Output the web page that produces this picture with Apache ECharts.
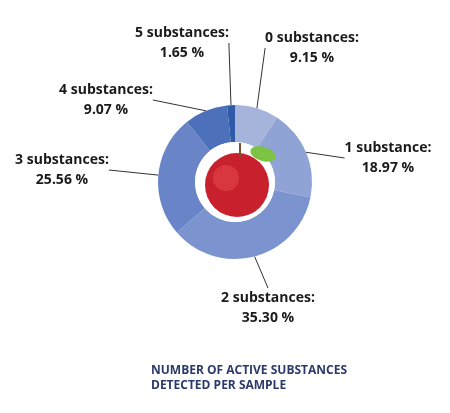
<!DOCTYPE html><html><head><meta charset="utf-8"><script src="https://cdn.jsdelivr.net/npm/echarts@6/dist/echarts.min.js"></script>
<style>html,body{margin:0;background:#fff}#c{width:450px;height:413px}</style></head><body><div id="c"></div><script>
const categories=['0 substances','1 substance','2 substances','3 substances','4 substances','5 substances'];
const values=[9.15,18.97,35.30,25.56,9.07,1.65];
const colors=['#a6b4dc','#8fa3d5','#7b93cf','#6985c8','#4d70ba','#2f5aa8'];
const labelPos=[[312,48],[388,158],[268,308],[62,170],[106,100],[182,43]];
const c=echarts.init(document.getElementById('c'));
c.setOption({
 title:{text:'NUMBER OF ACTIVE SUBSTANCES\nDETECTED PER SAMPLE',left:146,top:358,textStyle:{fontFamily:'Open Sans',fontSize:12,fontWeight:'bold',color:'#2b3a6b',lineHeight:15}},
 series:[{type:'pie',center:[235,182],radius:[40,77],startAngle:90,clockwise:true,silent:true,
  data:categories.map((n,i)=>({name:n,value:values[i],itemStyle:{color:colors[i]}})),
  label:{formatter:p=>p.name+':\n'+p.value.toFixed(2)+' %',fontFamily:'Open Sans',fontWeight:'bold',fontSize:14,color:'#1a1a1a',align:'center',lineHeight:20},
  labelLine:{show:true,length:20,length2:0,lineStyle:{color:'#333',width:1}},
  labelLayout:p=>({x:labelPos[p.dataIndex][0],y:labelPos[p.dataIndex][1],align:'center',verticalAlign:'middle'})
 }],
 graphic:[
  {type:'circle',z:100,shape:{cx:235,cy:182,r:40},style:{fill:'#fff'}},
  {type:'circle',z:101,shape:{cx:237,cy:185,r:32},style:{fill:'#c8202c'}},
  {type:'circle',z:102,shape:{cx:226,cy:178,r:13},style:{fill:'rgba(255,110,110,0.3)'}},
  {type:'rect',z:102,shape:{x:239,y:143,width:2,height:14},style:{fill:'#7a5230'}},
  {type:'ellipse',z:103,shape:{cx:263,cy:154,rx:13,ry:7},rotation:-0.3,originX:263,originY:154,style:{fill:'#7cc243'}}
 ]
});
</script></body></html>
